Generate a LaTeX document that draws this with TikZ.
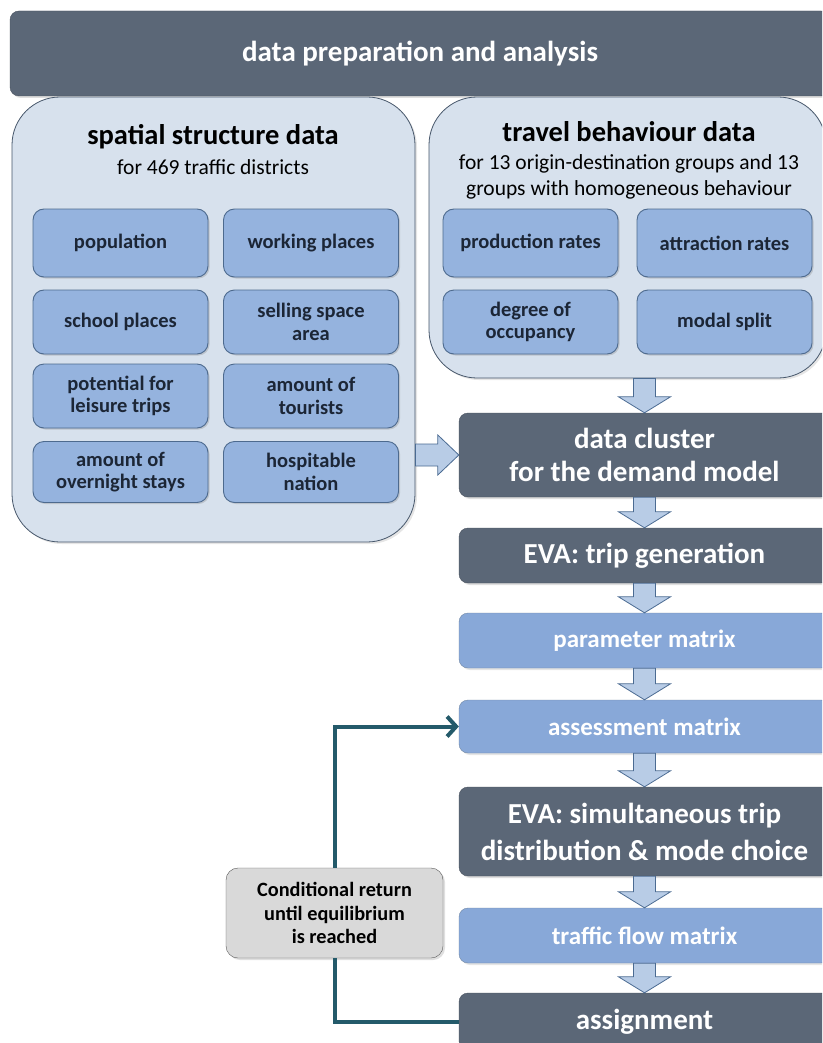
\documentclass[tikz,border=0pt]{standalone}
\usepackage{fontspec}
\setmainfont{Carlito}
\usetikzlibrary{calc,shadows,arrows.meta}

\definecolor{slate}{HTML}{5B6777}
\definecolor{panelfill}{HTML}{D7E1ED}
\definecolor{panelline}{HTML}{46566A}
\definecolor{itemfill}{HTML}{95B3DE}
\definecolor{itemline}{HTML}{4D6A8E}
\definecolor{itemtext}{HTML}{1C2636}
\definecolor{matrixfill}{HTML}{88A8D8}
\definecolor{arrowfill}{HTML}{B8CCE6}
\definecolor{arrowline}{HTML}{4B6B92}
\definecolor{loopline}{HTML}{245A6A}
\definecolor{notefill}{HTML}{D9D9D9}

\tikzset{
    darkbox/.style={fill=slate, draw=slate!80!black, rounded corners=9pt, text=white,
        font=\bfseries, align=center, drop shadow={opacity=.25,shadow xshift=2pt,shadow yshift=-2pt}},
    panel/.style={fill=panelfill, draw=panelline, line width=.8pt, rounded corners=48pt,
        drop shadow={opacity=.2,shadow xshift=2pt,shadow yshift=-2pt}},
    item/.style={fill=itemfill, draw=itemline, line width=.9pt, rounded corners=11pt, text=itemtext,
        minimum width=175pt, minimum height=64pt, font=\fontsize{20.5}{22.5}\selectfont\bfseries,
        align=center, drop shadow={opacity=.3,shadow xshift=1.5pt,shadow yshift=-1.5pt}},
    matrixbox/.style={fill=matrixfill, draw=itemline!80, rounded corners=9pt, text=white,
        minimum width=371pt, font=\fontsize{25}{28}\selectfont\bfseries,
        drop shadow={opacity=.2,shadow xshift=2pt,shadow yshift=-2pt}},
    fatarrow/.style={fill=arrowfill, draw=arrowline, line width=.8pt, line join=miter},
    loopline/.style={draw=loopline, line width=4pt}
}

% block arrows between boxes
\newcommand{\fatdown}[2]{%
    \path[fatarrow] let \p1=(#1.south), \p2=(#2.north) in
        (\x2-11pt,\y1) -- (\x2+11pt,\y1) -- (\x2+11pt,\y2+16pt) -- (\x2+26pt,\y2+16pt)
        -- (\x2,\y2) -- (\x2-26pt,\y2+16pt) -- (\x2-11pt,\y2+16pt) -- cycle;}
\newcommand{\fatright}[2]{%
    \path[fatarrow] let \p1=(#1.east), \p2=(#2.west) in
        (\x1,\y2+11pt) -- (\x2-21pt,\y2+11pt) -- (\x2-21pt,\y2+20pt) -- (\x2,\y2)
        -- (\x2-21pt,\y2-20pt) -- (\x2-21pt,\y2-11pt) -- (\x1,\y2-11pt) -- cycle;}

\begin{document}
\begin{tikzpicture}[x=1pt,y=-1pt]
    \useasboundingbox [fill=white] (0,0) rectangle (822,1043);
    \clip (0,0) rectangle (822,1043);

    \node [darkbox, minimum width=820pt, minimum height=85pt, font=\fontsize{29}{33}\selectfont\bfseries] (prep) at (420,53.5) {data preparation and analysis};

    % the two data panels
    \node [panel, minimum width=403pt, minimum height=445pt] (spatial) at (213.5,319.5) {};
    \node [panel, minimum width=397pt, minimum height=281pt] (travel) at (627.5,237.5) {};

    \node [font=\fontsize{28.5}{32}\selectfont\bfseries] (spatialtitle) at (213,137) {spatial structure data};
    \node [font=\fontsize{21.5}{24}\selectfont] (spatialsub) at (213,167) {for 469 traffic districts};
    \node [font=\fontsize{28.5}{32}\selectfont\bfseries] (traveltitle) at (629,132) {travel behaviour data};
    \node [font=\fontsize{21.5}{26}\selectfont, align=center] (travelsub) at (629,177) {for 13 origin-destination groups and 13\\groups with homogeneous behaviour};

    \node [item, minimum height=68pt] (population) at (120.5,243) {population};
    \node [item, minimum height=68pt] (working) at (311,243) {working places};
    \node [item] (school) at (120.5,322) {school places};
    \node [item] (selling) at (311,322) {selling space\\area};
    \node [item] (leisure) at (120.5,396) {potential for\\leisure trips};
    \node [item] (tourists) at (311,396) {amount of\\tourists};
    \node [item, minimum height=61pt] (overnight) at (120.5,472) {amount of\\overnight stays};
    \node [item, minimum height=61pt] (nation) at (311,472) {hospitable\\nation};

    \node [item, minimum height=68pt] (production) at (530.5,243) {production rates};
    \node [item, minimum height=68pt] (attraction) at (724.5,243) {attraction rates};
    \node [item] (occupancy) at (530.5,322) {degree of\\occupancy};
    \node [item] (modal) at (724.5,322) {modal split};

    % model chain
    \node [darkbox, minimum width=371pt, minimum height=84pt, font=\fontsize{29}{33}\selectfont\bfseries] (cluster) at (644.5,455) {data cluster\\for the demand model};
    \node [darkbox, minimum width=371pt, minimum height=55pt, font=\fontsize{29}{33}\selectfont\bfseries] (tripgen) at (644.5,555.5) {EVA: trip generation};
    \node [matrixbox, minimum height=55pt] (param) at (644.5,640.5) {parameter matrix};
    \node [matrixbox, minimum height=53pt] (assess) at (644.5,726.5) {assessment matrix};
    \node [darkbox, minimum width=371pt, minimum height=89pt, font=\fontsize{29}{37}\selectfont\bfseries] (evasim) at (644.5,831.5) {EVA: simultaneous trip\\distribution \& mode choice};
    \node [matrixbox, minimum height=55pt] (traffic) at (644.5,935.5) {traffic flow matrix};
    \node [darkbox, minimum width=371pt, minimum height=57pt, font=\fontsize{29}{33}\selectfont\bfseries] (assign) at (644.5,1021.5) {assignment};

    \node [fill=notefill, draw=black!65, rounded corners=12pt, minimum width=217pt, minimum height=90pt,
        font=\fontsize{20.3}{23.5}\selectfont\bfseries, align=center,
        drop shadow={opacity=.25,shadow xshift=2pt,shadow yshift=-2pt}] (cond) at (334.5,913) {Conditional return\\until equilibrium\\is reached};

    \fatdown{travel}{cluster}
    \fatright{spatial}{cluster}
    \fatdown{cluster}{tripgen}
    \fatdown{tripgen}{param}
    \fatdown{param}{assess}
    \fatdown{assess}{evasim}
    \fatdown{evasim}{traffic}
    \fatdown{traffic}{assign}

    \draw [loopline] (assign.west) -| (cond.south);
    \draw [loopline, -{Straight Barb[length=9pt,width=20pt]}] (cond.north) |- (assess.west);
\end{tikzpicture}
\end{document}
